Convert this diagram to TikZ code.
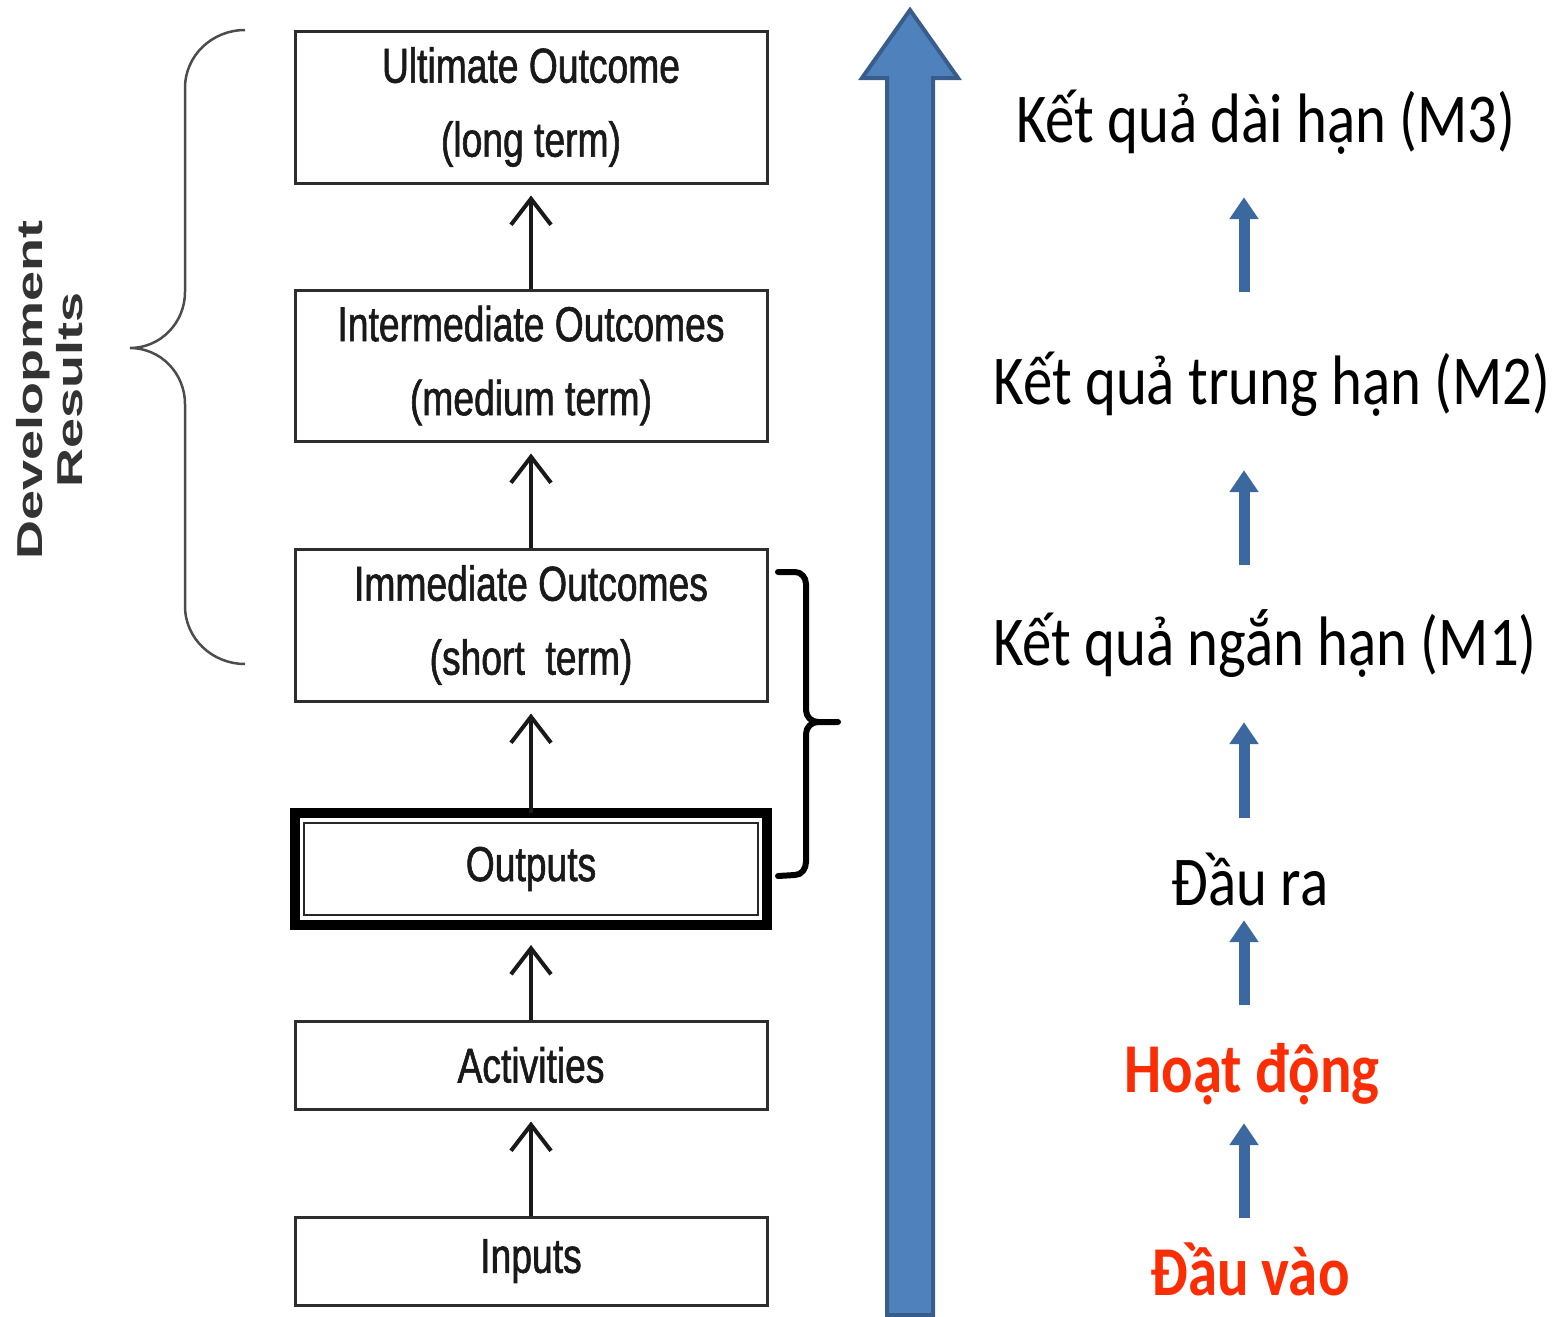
\documentclass[tikz,border=0pt]{standalone}
\usepackage{fontspec}
\usepackage{xcolor}
\usetikzlibrary{arrows.meta,calc,positioning}
\newfontfamily\narrowfont[FakeStretch=0.76,FakeBold=1.2]{Liberation Sans}
\newfontfamily\widefont[FakeStretch=1.5]{Liberation Sans}
\newfontfamily\vnfont[FakeStretch=0.84]{Carlito}
\definecolor{boxgray}{RGB}{45,45,45}
\definecolor{barblue}{RGB}{79,129,189}
\definecolor{bardark}{RGB}{56,93,138}
\definecolor{smallblue}{RGB}{60,104,160}
\definecolor{vnred}{RGB}{250,45,5}
\tikzset{
  resbox/.style={draw=boxgray, line width=3pt, rectangle, minimum width=472pt, inner sep=0pt, text=black!90, font=\narrowfont\fontsize{49}{74}\selectfont, align=center},
  uparrow/.style={line width=4pt, draw=black!90, -{Straight Barb[length=26pt,width=40pt]}, shorten >=11pt},
  vntext/.style={font=\vnfont\fontsize{70}{80}\selectfont, anchor=base, inner sep=0pt, text height=45pt, text depth=15pt},
  vnarrow/.style={line width=11pt, draw=smallblue, -{Triangle[length=22pt,width=28pt]}},
}

\begin{document}
\begin{tikzpicture}[x=1pt, y=-1pt]
    \useasboundingbox (0,0) rectangle (1559,1317);

    % results chain (left)
    \node[resbox, minimum height=152pt] (ult) at (531,107) {Ultimate Outcome\\(long term)};
    \node[resbox, minimum height=151pt] (inter) at (531,365.5) {Intermediate Outcomes\\(medium term)};
    \node[resbox, minimum height=152pt] (imm) at (531,625) {Immediate Outcomes\\(short~ term)};
    \node[resbox, draw=black, line width=10pt, outer sep=0pt, minimum height=112pt] (outp) at (531,869) {Outputs};
    \draw[line width=2.5pt, draw=black!85] ($(outp.north west)+(9,10)$) rectangle ($(outp.south east)+(-9,-10)$);
    \node[resbox, minimum height=88pt] (act) at (531,1065) {Activities};
    \node[resbox, minimum height=88pt] (inp) at (531,1261) {Inputs};

    \draw[uparrow] (inter.north) -- (ult.south);
    \draw[uparrow] (imm.north) -- (inter.south);
    \draw[uparrow] (outp.north) -- (imm.south);
    \draw[uparrow, shorten >=20pt] (act.north) -- (outp.south);
    \draw[uparrow] (inp.north) -- (act.south);

    % braces
    \node[rotate=90, align=center, inner sep=0pt, text=black!80, font=\widefont\bfseries\fontsize{36}{40}\selectfont] (devres) at (50,390) {Development\\Results};
    \draw[line width=2.5pt, draw=black!70] (245,30) to[out=180,in=90] (185,88) -- (185,292)
        to[out=-90,in=0] (130,348) to[out=0,in=90] (185,404) -- (185,606) to[out=-90,in=180] (245,664);
    \draw[line width=6pt, line join=round, line cap=round] (778,572) -- (795,572) to[out=0,in=90] (806,584) -- (806,710)
        to[out=-90,in=180] (818,722) -- (838,722) -- (818,722) to[out=180,in=90] (806,734) -- (806,862)
        to[out=-90,in=0] (795,875) -- (778,876);

    % big arrow
    \draw[line width=4pt, draw=bardark, fill=barblue, line join=miter]
        (887,1315) -- (887,78) -- (862,78) -- (910,10) -- (958,78) -- (933,78) -- (933,1315) -- cycle;

    % vietnamese chain (right)
    \node[vntext] (m3) at (1266,142) {Kết quả dài hạn (M3)};
    \node[vntext] (m2) at (1272,404) {Kết quả trung hạn (M2)};
    \node[vntext] (m1) at (1265,665) {Kết quả ngắn hạn (M1)};
    \node[vntext] (dra) at (1250,905) {Đầu ra};
    \node[vntext, font=\vnfont\bfseries\fontsize{70}{80}\selectfont, text=vnred] (hd) at (1252,1092) {Hoạt động};
    \node[vntext, font=\vnfont\bfseries\fontsize{70}{80}\selectfont, text=vnred] (dv) at (1250,1295) {Đầu vào};

    \coordinate (col) at (1244,0);
    \draw[vnarrow, shorten <=67pt, shorten >=40pt] (m2.north -| col) -- (m3.south -| col);
    \draw[vnarrow, shorten <=55pt, shorten >=51pt] (m1.north -| col) -- (m2.south -| col);
    \draw[vnarrow, shorten <=42pt, shorten >=42pt] (dra.north -| col) -- (m1.south -| col);
    \draw[vnarrow, shorten <=42pt] (hd.north -| col) -- (dra.south -| col);
    \draw[vnarrow, shorten <=32pt, shorten >=16pt] (dv.north -| col) -- (hd.south -| col);
\end{tikzpicture}
\end{document}
